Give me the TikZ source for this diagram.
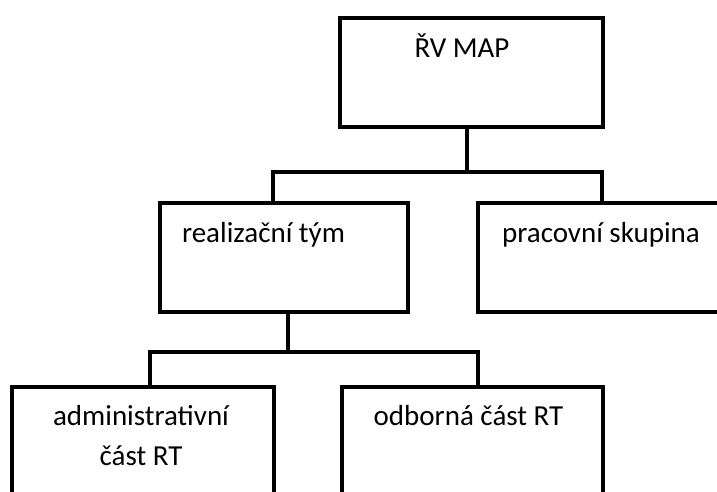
\documentclass[tikz,border=0pt]{standalone}
\usepackage{fontspec}
\setmainfont{Carlito}
\usepackage{tikz}
\definecolor{ink}{HTML}{000000}
\tikzset{
  box/.style={draw=ink, line width=4.8pt, rectangle, inner sep=0pt, minimum height=109pt},
  link/.style={draw=ink, line width=4.8pt, line join=miter},
  lab/.style={text=ink, anchor=base, inner sep=0pt, font=\fontsize{29}{40}\selectfont},
  every node/.style={text=ink}
}
\begin{document}
\begin{tikzpicture}[x=1pt,y=-1pt]
  \useasboundingbox (0,0) rectangle (717,492);
  \fill[white] (0,0) rectangle (717,492);
  \clip (0,0) rectangle (717,492);

  % boxes
  \node[box, minimum width=263pt] (rv)  at (471.5,72.5) {};
  \node[box, minimum width=248pt] (rt)  at (284,257.5) {};
  \node[box, minimum width=248pt] (ps)  at (602,257.5) {};
  \node[box, minimum width=262pt] (adm) at (143,441.5) {};
  \node[box, minimum width=261pt] (odb) at (472.5,441.5) {};

  % junctions
  \coordinate (j1) at (467,172);
  \coordinate (b1) at (273,172);
  \coordinate (b2) at (602,172);
  \coordinate (j2) at (288,352);
  \coordinate (b3) at (150,352);
  \coordinate (b4) at (478,352);

  \draw[link] (rv.south -| j1) -- (j1);
  \draw[link] (rt.north -| b1) -- (b1) -- (b2) -- (ps.north -| b2);
  \draw[link] (rt.south -| j2) -- (j2);
  \draw[link] (adm.north -| b3) -- (b3) -- (b4) -- (odb.north -| b4);

  % texts (base of a two-line node is its last line)
  \node[lab] (rvt)  at (462,58)    {ŘV MAP};
  \node[lab] (rtt)  at (263.5,242) {realizační tým};
  \node[lab] (pst)  at (601,242)   {pracovní skupina};
  \node[lab, align=center] (admt) at (141,465) {administrativní\\část RT};
  \node[lab] (odbt) at (468.5,425) {odborná část RT};
\end{tikzpicture}
\end{document}
